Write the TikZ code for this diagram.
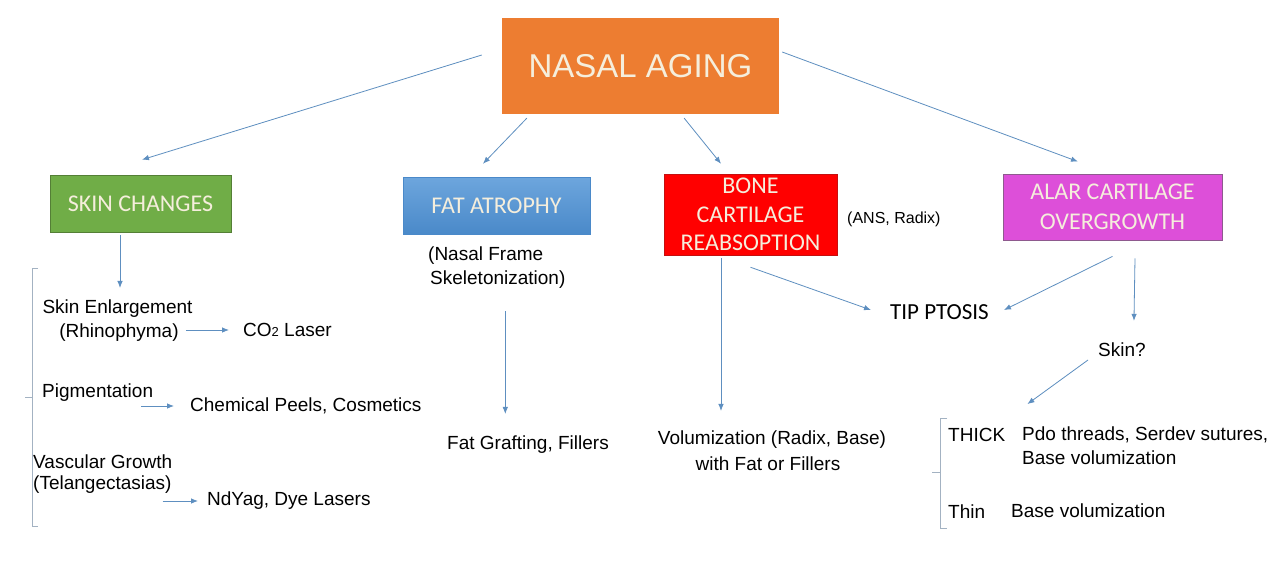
\documentclass[tikz,border=0pt]{standalone}
\usepackage{fontspec}
\setmainfont{Liberation Sans}
\newfontfamily\boxfont{Carlito}
\usetikzlibrary{arrows.meta}
\definecolor{orangeB}{HTML}{ED7D31}
\definecolor{greenB}{HTML}{70AD47}
\definecolor{greenE}{HTML}{547F36}
\definecolor{blueT}{HTML}{6DA6DD}
\definecolor{blueB}{HTML}{4A89C9}
\definecolor{redB}{HTML}{FF0000}
\definecolor{redE}{HTML}{C41010}
\definecolor{magB}{HTML}{DD4FD9}
\definecolor{magE}{HTML}{8E5A8E}
\definecolor{boxtext}{HTML}{F5EEDC}
\definecolor{arrowC}{HTML}{5E8FC0}
\definecolor{brackC}{HTML}{A3B2C2}
\tikzset{
  bx/.style={rectangle, inner sep=0pt, align=center, text=boxtext, font=\boxfont\fontsize{24}{29}\selectfont},
  tx/.style={inner sep=0pt, font=\fontsize{19}{24}\selectfont},
  arr/.style={draw=arrowC, line width=0.8pt, -{Latex[length=7pt,width=5.5pt]}},
  brk/.style={draw=brackC, line width=1pt}
}
\begin{document}
\begin{tikzpicture}[x=1pt,y=-1pt]
\useasboundingbox (0,0) rectangle (1286,566);
\fill[white] (0,0) rectangle (1286,566);

% boxes
\node[bx, fill=orangeB, minimum width=277pt, minimum height=96pt,
  font=\fontsize{33}{38}\selectfont] (nasal) at (640.5,66) {NASAL AGING};
\node[bx, fill=greenB, draw=greenE, line width=0.6pt, minimum width=181pt, minimum height=57pt] (skin) at (140.5,203.5) {SKIN CHANGES};
\node[bx, top color=blueT, bottom color=blueB, draw=blueB, line width=0.5pt, minimum width=187pt, minimum height=57pt] (fat) at (496.5,205.5) {FAT ATROPHY};
\node[bx, fill=redB, draw=redE, line width=0.5pt, minimum width=173pt, minimum height=81pt,
  font=\boxfont\fontsize{24}{28.5}\selectfont] (bone) at (750.5,214.5) {BONE\\CARTILAGE\\REABSOPTION};
\node[bx, fill=magB, draw=magE, line width=0.8pt, minimum width=219pt, minimum height=66pt,
  font=\boxfont\fontsize{24}{30}\selectfont] (alar) at (1112.5,207) {ALAR CARTILAGE\\OVERGROWTH};

% texts
\node[tx] (enl) at (117.5,309) {Skin Enlargement};
\node[tx] (rhin) at (119,333) {(Rhinophyma)};
\node[tx, anchor=west] (co2) at (243,330) {CO{\fontsize{13}{15}\selectfont 2} Laser};
\node[tx, anchor=west] (pig) at (42,393) {Pigmentation};
\node[tx, anchor=west] (chem) at (190,406) {Chemical Peels, Cosmetics};
\node[tx, anchor=west] (vasc) at (33,462) {Vascular Growth};
\node[tx, anchor=west] (tel) at (33,485) {(Telangectasias)};
\node[tx, anchor=west] (nd) at (207,501) {NdYag, Dye Lasers};

\node[tx, anchor=west] (nfr) at (428,256) {(Nasal Frame};
\node[tx, anchor=west] (skel) at (430,280) {Skeletonization)};
\node[tx] (fg) at (528,445) {Fat Grafting, Fillers};

\node[tx] (vol) at (772,440) {Volumization (Radix, Base)};
\node[tx] (volb) at (768,464) {with Fat or Fillers};
\node[tx, anchor=west, font=\fontsize{16}{19}\selectfont] (ans) at (847,219) {(ANS, Radix)};

\node[tx, anchor=west, font=\boxfont\fontsize{23}{27}\selectfont] (tip) at (890,312) {TIP PTOSIS};
\node[tx, anchor=west] (skq) at (1098,350) {Skin?};
\node[tx, anchor=west] (thick) at (948,435) {THICK};
\node[tx, anchor=west] (pdo) at (1022,435) {Pdo threads, Serdev sutures,};
\node[tx, anchor=west] (basev) at (1022,458) {Base volumization};
\node[tx, anchor=west] (thin) at (948,512) {Thin};
\node[tx, anchor=west] (basev2) at (1011,511) {Base volumization};

% arrows from top
\draw[arr] ([xshift=-20pt,yshift=11pt]nasal.west) -- ([xshift=1.5pt,yshift=15pt]skin.north);
\draw[arr] ([xshift=25pt,yshift=-4pt]nasal.south west) -- ([xshift=-13.5pt,yshift=13pt]fat.north);
\draw[arr] ([xshift=-95pt,yshift=-4pt]nasal.south east) -- ([xshift=-29.5pt,yshift=10pt]bone.north);
\draw[arr] ([xshift=3pt,yshift=14pt]nasal.east) -- ([xshift=-34.5pt,yshift=12pt]alar.north);

% skin branch
\draw[arr] ([xshift=-20.5pt,yshift=-3pt]skin.south) -- ([xshift=2.5pt,yshift=12pt]enl.north);
\draw[arr] ([xshift=7pt]rhin.east |- co2.west) -- ([xshift=-14pt]co2.west);
\draw[arr] ([xshift=-12pt]pig.east |- chem.west) -- ([xshift=-16pt]chem.west);
\draw[arr] ([xshift=-9pt]tel.east |- nd.west) -- ([xshift=-9pt]nd.west);

% fat branch
\coordinate (fs) at ([xshift=7.5pt,yshift=-22pt]skel.south);
\draw[arr] (fs) -- ([yshift=22pt]fs |- fg.north);

% bone branch
\coordinate (bs) at ([xshift=-29.5pt,yshift=-3pt]bone.south);
\draw[arr] (bs) -- ([yshift=20pt]bs |- vol.north);
\draw[arr] ([yshift=-12pt]bone.south) -- ([xshift=-19pt,yshift=2pt]tip.west);

% alar branch
\draw[arr] ([yshift=-16pt]alar.south) -- ([xshift=15pt,yshift=2pt]tip.east);
\draw[arr] ([xshift=22.5pt,yshift=-18pt]alar.south) -- ([xshift=12pt,yshift=22pt]skq.north);
\draw[arr] ([xshift=-10pt,yshift=-10pt]skq.west) -- ([xshift=22pt,yshift=24pt]thick.north east);

% brackets
\draw[brk] (38,268) -- (32,268) -- (32,526) -- (38,526);
\draw[brk] (32,397) -- (25,397);
\draw[brk] (947,418) -- (940,418) -- (940,528) -- (947,528);
\draw[brk] (940,472) -- (932,472);
\end{tikzpicture}
\end{document}
